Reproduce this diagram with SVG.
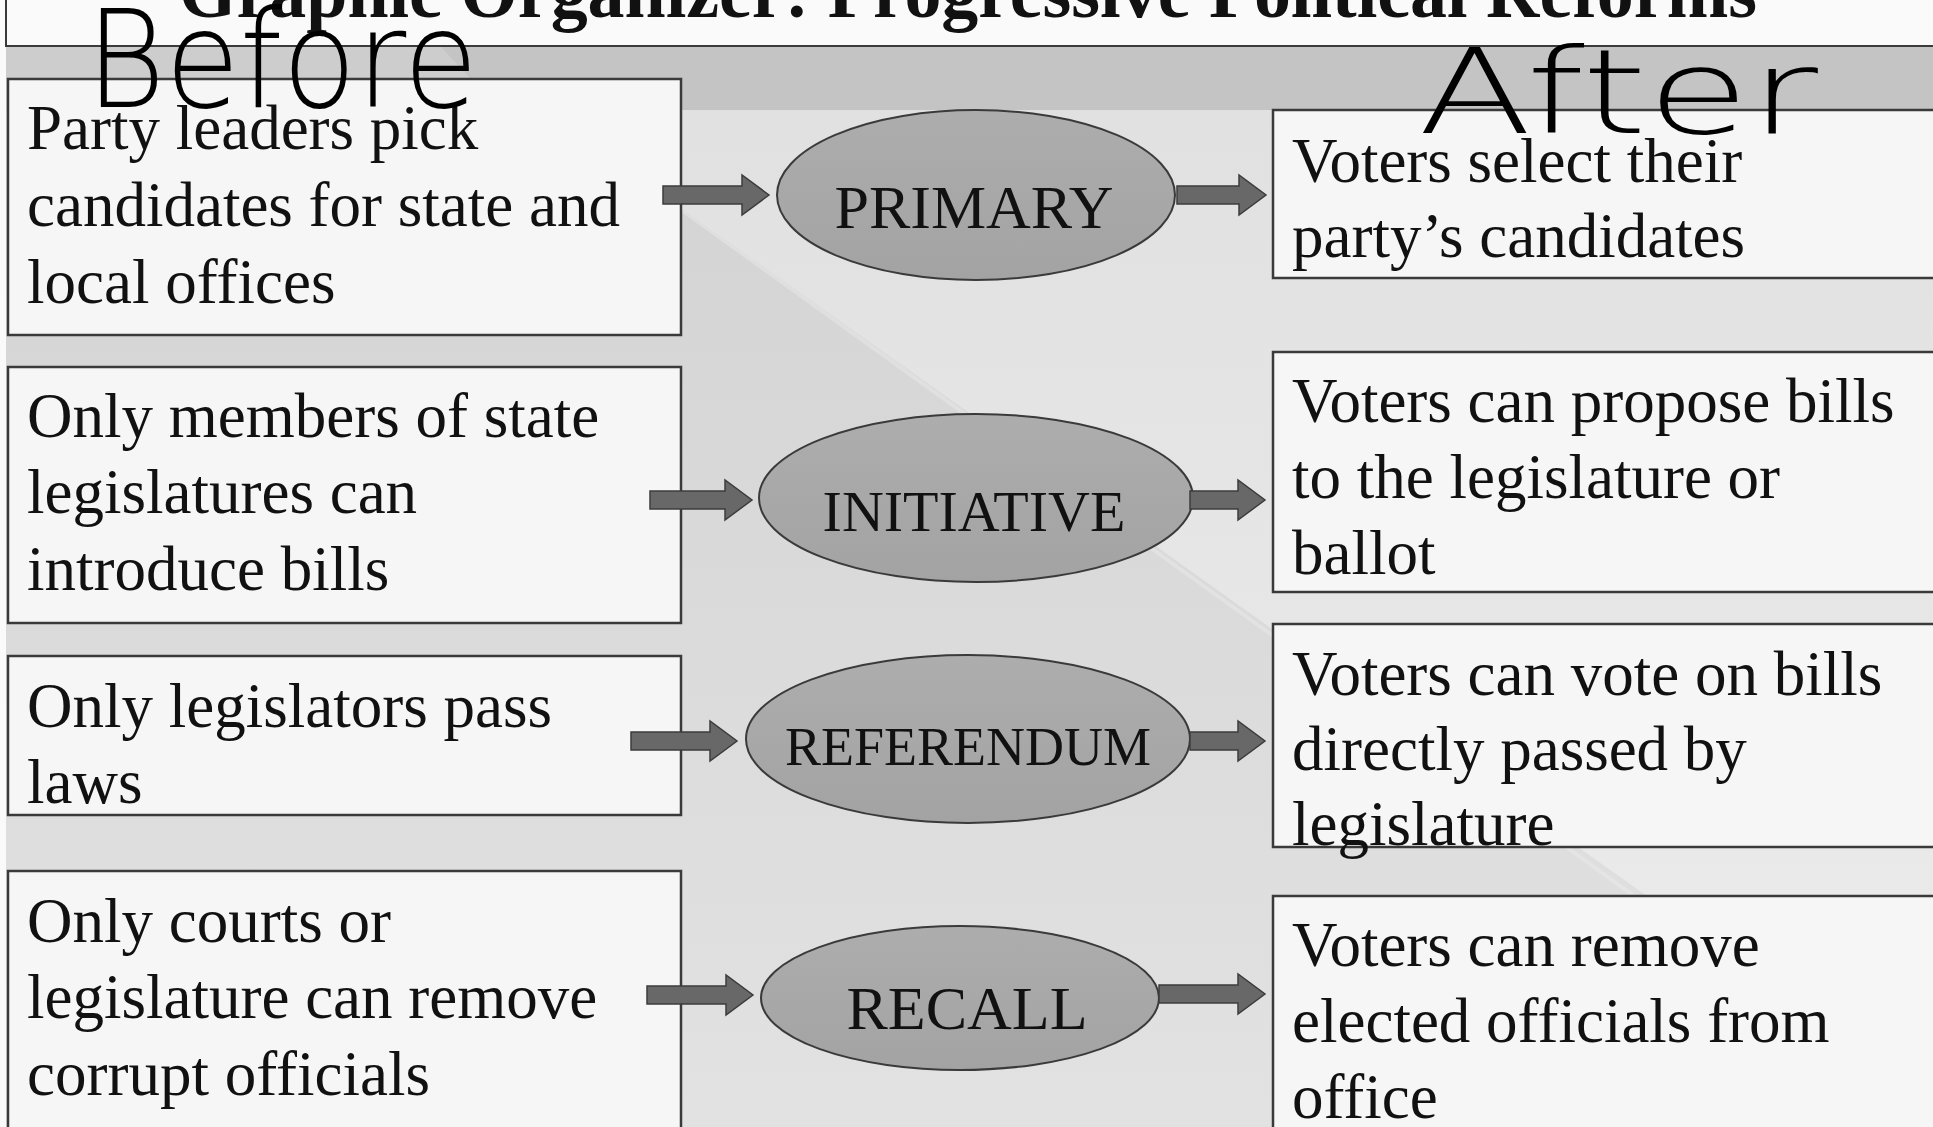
<svg xmlns="http://www.w3.org/2000/svg" width="1933" height="1127" viewBox="0 0 1933 1127">
  <defs>
    <linearGradient id="bgL" x1="0" y1="0" x2="0" y2="1">
      <stop offset="0" stop-color="#d2d2d2"/>
      <stop offset="1" stop-color="#e2e2e2"/>
    </linearGradient>
    <linearGradient id="bgR" x1="0" y1="0" x2="0" y2="1">
      <stop offset="0" stop-color="#e0e0e0"/>
      <stop offset="1" stop-color="#ececec"/>
    </linearGradient>
    <linearGradient id="ell" x1="0" y1="0" x2="0" y2="1">
      <stop offset="0" stop-color="#adadad"/>
      <stop offset="1" stop-color="#a3a3a3"/>
    </linearGradient>
  </defs>
  <style>
    .box { fill: #f6f6f6; stroke: #3a3a3a; stroke-width: 2.5; }
    .ell { fill: url(#ell); stroke: #3a3a3a; stroke-width: 2; }
    .arrow { fill: #686868; stroke: #3c3c3c; stroke-width: 1.5; }
    .t { font-family: "Liberation Serif", "Times New Roman", serif; font-size: 63px; fill: #111; }
    .lab { font-family: "Liberation Serif", "Times New Roman", serif; fill: #111; text-anchor: middle; }
    .hand { font-family: "DejaVu Sans", sans-serif; font-weight: 200; fill: #000; }
  </style>

  <!-- background -->
  <rect x="0" y="0" width="1933" height="1127" fill="#fafafa"/>
  <rect x="6" y="46" width="1927" height="1081" fill="url(#bgL)"/>
  <polygon points="454,46 1933,46 1933,1100" fill="url(#bgR)"/>
  <line x1="454" y1="46" x2="1955" y2="1127" stroke="#eeeeee" stroke-width="4" opacity="0.4"/>
  <rect x="6" y="46" width="1927" height="64" fill="#c4c4c4"/>
  <polygon points="6,46 440,46 500,110 6,110" fill="#cdcdcd"/>

  <!-- title bar -->
  <g id="title">
    <rect x="6" y="-5" width="1935" height="51" fill="#fafafa" stroke="#3a3a3a" stroke-width="2"/>
    <text x="179" y="17" font-family="Liberation Serif, serif" font-weight="bold" font-size="74" textLength="1578" lengthAdjust="spacingAndGlyphs" fill="#111">Graphic Organizer: Progressive Political Reforms</text>
  </g>

  <!-- before boxes -->
  <g id="before1">
    <rect class="box" x="8" y="79" width="673" height="256"/>
    <text class="t" x="27" y="149">Party leaders pick</text>
    <text class="t" x="27" y="226">candidates for state and</text>
    <text class="t" x="27" y="303">local offices</text>
  </g>
  <g id="before2">
    <rect class="box" x="8" y="367" width="673" height="256"/>
    <text class="t" x="27" y="437">Only members of state</text>
    <text class="t" x="27" y="513">legislatures can</text>
    <text class="t" x="27" y="590">introduce bills</text>
  </g>
  <g id="before3">
    <rect class="box" x="8" y="656" width="673" height="159"/>
    <text class="t" x="27" y="727">Only legislators pass</text>
    <text class="t" x="27" y="803">laws</text>
  </g>
  <g id="before4">
    <rect class="box" x="8" y="871" width="673" height="270"/>
    <text class="t" x="27" y="942">Only courts or</text>
    <text class="t" x="27" y="1018">legislature can remove</text>
    <text class="t" x="27" y="1095">corrupt officials</text>
  </g>

  <!-- reforms -->
  <g id="primary">
    <ellipse class="ell" cx="976" cy="195" rx="199" ry="85"/>
    <text class="lab" x="974" y="228" font-size="62">PRIMARY</text>
  </g>
  <g id="initiative">
    <ellipse class="ell" cx="976" cy="498" rx="217" ry="84"/>
    <text class="lab" x="974" y="531" font-size="58">INITIATIVE</text>
  </g>
  <g id="referendum">
    <ellipse class="ell" cx="968" cy="739" rx="222" ry="84"/>
    <text class="lab" x="968" y="765" font-size="54">REFERENDUM</text>
  </g>
  <g id="recall">
    <ellipse class="ell" cx="960" cy="998" rx="199" ry="72"/>
    <text class="lab" x="967" y="1029" font-size="62">RECALL</text>
  </g>

  <!-- after boxes -->
  <g id="after1">
    <rect class="box" x="1273" y="110" width="670" height="168"/>
    <text class="t" x="1292" y="182">Voters select their</text>
    <text class="t" x="1292" y="257">party’s candidates</text>
  </g>
  <g id="after2">
    <rect class="box" x="1273" y="352" width="670" height="240"/>
    <text class="t" x="1292" y="422">Voters can propose bills</text>
    <text class="t" x="1292" y="498">to the legislature or</text>
    <text class="t" x="1292" y="574">ballot</text>
  </g>
  <g id="after3">
    <rect class="box" x="1273" y="624" width="670" height="223"/>
    <text class="t" x="1292" y="695">Voters can vote on bills</text>
    <text class="t" x="1292" y="770">directly passed by</text>
    <text class="t" x="1292" y="845">legislature</text>
  </g>
  <g id="after4">
    <rect class="box" x="1273" y="896" width="670" height="245"/>
    <text class="t" x="1292" y="966">Voters can remove</text>
    <text class="t" x="1292" y="1042">elected officials from</text>
    <text class="t" x="1292" y="1118">office</text>
  </g>

  <!-- connectors -->
  <g id="connectors">
    <path class="arrow" d="M663,186 H742 V175 L769,195 L742,215 V204 H663 Z"/>
    <path class="arrow" d="M1177,186 H1239 V175 L1266,195 L1239,215 V204 H1177 Z"/>
    <path class="arrow" d="M650,491 H725 V480 L752,500 L725,520 V509 H650 Z"/>
    <path class="arrow" d="M1190,491 H1238 V480 L1265,500 L1238,520 V509 H1190 Z"/>
    <path class="arrow" d="M631,732 H710 V721 L737,741 L710,761 V750 H631 Z"/>
    <path class="arrow" d="M1190,732 H1238 V721 L1265,741 L1238,761 V750 H1190 Z"/>
    <path class="arrow" d="M647,986 H726 V975 L753,995 L726,1015 V1004 H647 Z"/>
    <path class="arrow" d="M1159,985 H1238 V974 L1265,994 L1238,1014 V1003 H1159 Z"/>
  </g>

  <!-- handwritten annotations -->
  <text class="hand" x="86" y="107" font-size="135" textLength="392" lengthAdjust="spacingAndGlyphs">Before</text>
  <text class="hand" x="1418" y="133" font-size="118" textLength="400" lengthAdjust="spacingAndGlyphs">After</text>
</svg>
